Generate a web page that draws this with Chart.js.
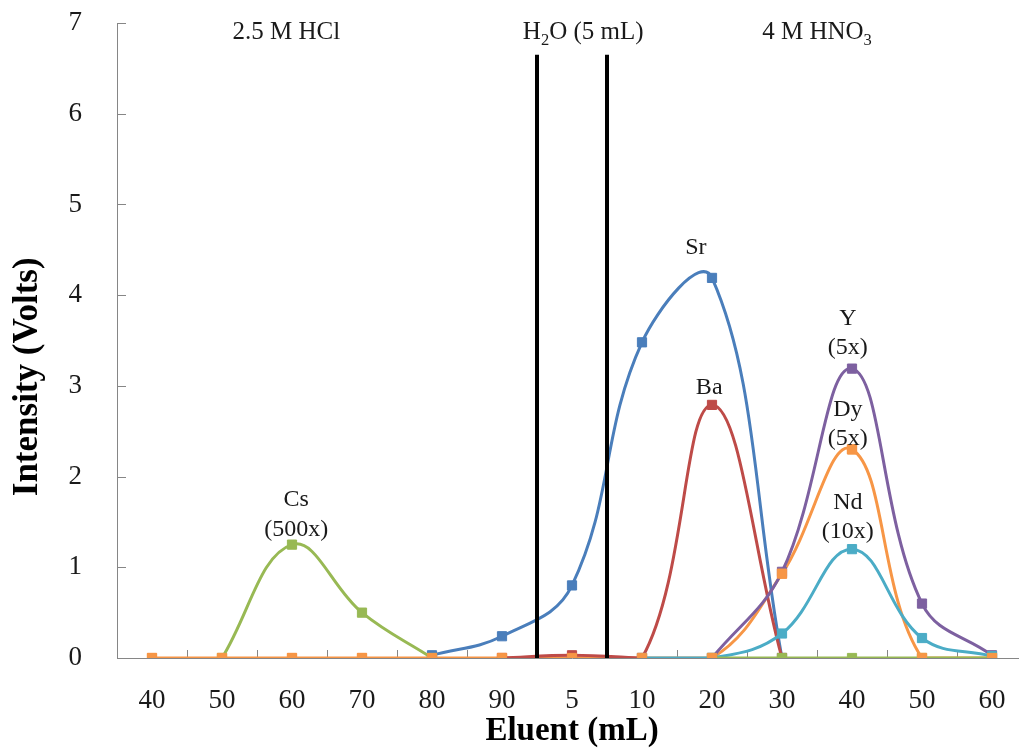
<!DOCTYPE html>
<html>
<head>
<meta charset="utf-8">
<title>Elution profile</title>
<script src="https://cdn.jsdelivr.net/npm/chart.js@4.4.1/dist/chart.umd.min.js"></script>
<style>
	html, body { margin: 0; padding: 0; background: #fff; overflow: hidden; }
	#wrap { width: 1040px; height: 751px; }
</style>
</head>
<body>
<div id="wrap"><canvas id="elution" width="1040" height="751"></canvas></div>
<script>
// eluent volume (mL) per fraction, HCl stage then HNO3 stage
const eluent = ['40', '50', '60', '70', '80', '90', '5', '10', '20', '30', '40', '50', '60']
const yTicks = [0, 1, 2, 3, 4, 5, 6, 7]

// intensities (Volts), null where the series is not plotted
const srVals = [null, null, null, null, 0.03, 0.24, 0.8, 3.48, 4.19, 0, null, null, null]
const baVals = [null, null, null, null, null, 0, 0.03, 0, 2.79, 0, null, null, null]
const csVals = [null, 0, 1.25, 0.5, 0, null, null, null, 0, 0, 0, 0, 0]
const yVals = [null, null, null, null, null, null, null, null, 0, 0.95, 3.19, 0.6, 0.03]
const dyVals = [0, 0, 0, 0, 0, 0, 0, 0, 0, 0.93, 2.3, 0, 0]
const ndVals = [null, null, null, null, null, null, null, 0, 0, 0.27, 1.2, 0.22, 0.02]

// peak labels: category position and value where the text sits
const peakLabels = [
	{ lines: ['Sr'], at: 7.77, v: [4.52] },
	{ lines: ['Ba'], at: 7.96, v: [2.98] },
	{ lines: ['Cs', '(500x)'], at: 2.06, v: [1.74, 1.41] },
	{ lines: ['Y', '(5x)'], at: 9.94, v: [3.74, 3.42] },
	{ lines: ['Dy', '(5x)'], at: 9.94, v: [2.74, 2.42] },
	{ lines: ['Nd', '(10x)'], at: 9.94, v: [1.71, 1.39] },
]
// stage headers: [text segments, category position]
const stages = [
	[[{ t: '2.5 M HCl' }], 1.92],
	[[{ t: 'H' }, { t: '2', sub: true }, { t: 'O (5 mL)' }], 6.16],
	[[{ t: '4 M HNO' }, { t: '3', sub: true }], 9.5],
]
const stageBreaks = [5.5, 6.5]

const SERIF = '"Liberation Serif", "Times New Roman", serif'

function drawRich(ctx, segs, cx, cy, size) {
	let total = 0
	segs.forEach(s => {
		ctx.font = (s.sub ? size * 0.66 : size) + 'px ' + SERIF
		s.w = ctx.measureText(s.t).width
		total += s.w
	})
	let px = cx - total / 2
	ctx.textAlign = 'left'
	ctx.textBaseline = 'alphabetic'
	segs.forEach(s => {
		ctx.font = (s.sub ? size * 0.66 : size) + 'px ' + SERIF
		ctx.fillText(s.t, px, cy + size * 0.33 + (s.sub ? size * 0.25 : 0))
		px += s.w
	})
}

const overlay = {
	id: 'overlay',
	beforeDatasetsDraw(chart) {
		const { ctx, chartArea, scales: { x, y } } = chart
		ctx.save()
		ctx.strokeStyle = '#868686'
		ctx.lineWidth = 1
		ctx.beginPath()
		yTicks.slice(1).forEach(v => {
			const py = Math.round(y.getPixelForValue(v)) + 0.5
			ctx.moveTo(chartArea.left, py)
			ctx.lineTo(chartArea.left + 9, py)
		})
		for (let i = 1; i < eluent.length; i++) {
			const px = Math.round(x.getPixelForValue(i - 0.5)) + 0.5
			ctx.moveTo(px, chartArea.bottom)
			ctx.lineTo(px, chartArea.bottom - 8)
		}
		ctx.stroke()
		ctx.restore()
	},
	afterDatasetsDraw(chart) {
		const { ctx, scales: { x, y } } = chart
		ctx.save()
		// stage boundaries
		ctx.strokeStyle = '#000'
		ctx.lineWidth = 4
		stageBreaks.forEach(b => {
			const px = x.getPixelForValue(b)
			ctx.beginPath()
			ctx.moveTo(px, y.getPixelForValue(6.65))
			ctx.lineTo(px, y.getPixelForValue(0))
			ctx.stroke()
		})
		ctx.fillStyle = '#1a1a1a'
		stages.forEach(([segs, at]) => drawRich(ctx, segs, x.getPixelForValue(at), y.getPixelForValue(6.92), 25))
		ctx.font = '24px ' + SERIF
		ctx.textAlign = 'center'
		ctx.textBaseline = 'middle'
		peakLabels.forEach(l => {
			l.lines.forEach((txt, i) => ctx.fillText(txt, x.getPixelForValue(l.at), y.getPixelForValue(l.v[i])))
		})
		// y axis title
		ctx.font = 'bold 35px ' + SERIF
		ctx.fillStyle = '#000'
		ctx.translate(28, y.getPixelForValue(3.1))
		ctx.rotate(-Math.PI / 2)
		ctx.fillText('Intensity (Volts)', 0, 0)
		ctx.restore()
	},
}

function series(data, color, extra) {
	return Object.assign({
		data: data,
		borderColor: color,
		backgroundColor: color,
		pointBackgroundColor: color,
		pointBorderColor: color,
		borderWidth: 3,
		pointStyle: 'rect',
		pointRadius: 6.5,
		pointBorderWidth: 1,
		tension: 0.4,
		spanGaps: false,
		fill: false,
	}, extra || {})
}

new Chart(document.getElementById('elution'), {
	type: 'line',
	data: {
		labels: eluent,
		datasets: [
			series(dyVals, '#F79646', { label: 'Dy markers', showLine: false }),
			series(csVals, '#98B954', { label: 'Cs' }),
			series(ndVals, '#4BACC6', { label: 'Nd' }),
			series(yVals, '#7D60A0', { label: 'Y' }),
			series(baVals, '#BE4B48', { label: 'Ba' }),
			series(srVals, '#4A7EBB', { label: 'Sr' }),
			series(dyVals, '#F79646', { label: 'Dy' }),
		],
	},
	options: {
		responsive: false,
		animation: false,
		devicePixelRatio: 1,
		layout: { autoPadding: false, padding: { top: 23, right: 13, left: 0, bottom: 0 } },
		plugins: {
			legend: { display: false },
			tooltip: { enabled: false },
		},
		scales: {
			x: {
				offset: true,
				grid: { display: false },
				border: { display: true, color: '#868686', width: 1 },
				ticks: {
					color: '#1a1a1a',
					padding: 19,
					maxRotation: 0,
					autoSkip: false,
					font: { family: SERIF, size: 27 },
				},
				title: {
					display: true,
					text: 'Eluent (mL)',
					color: '#000',
					padding: 0,
					font: { family: SERIF, size: 33, weight: 'bold' },
				},
				afterFit(scale) {
					scale.height = 93
					scale.paddingLeft = 0
					scale.paddingRight = 0
				},
			},
			y: {
				min: 0,
				max: 7,
				grid: { display: false },
				border: { display: true, color: '#868686', width: 1 },
				afterBuildTicks(scale) { scale.ticks = yTicks.map(v => ({ value: v })) },
				ticks: {
					color: '#1a1a1a',
					padding: 27,
					font: { family: SERIF, size: 27 },
				},
				afterFit(scale) {
					scale.width = 117
					scale.paddingTop = 0
					scale.paddingBottom = 0
				},
			},
		},
	},
	plugins: [overlay],
})
</script>
</body>
</html>
